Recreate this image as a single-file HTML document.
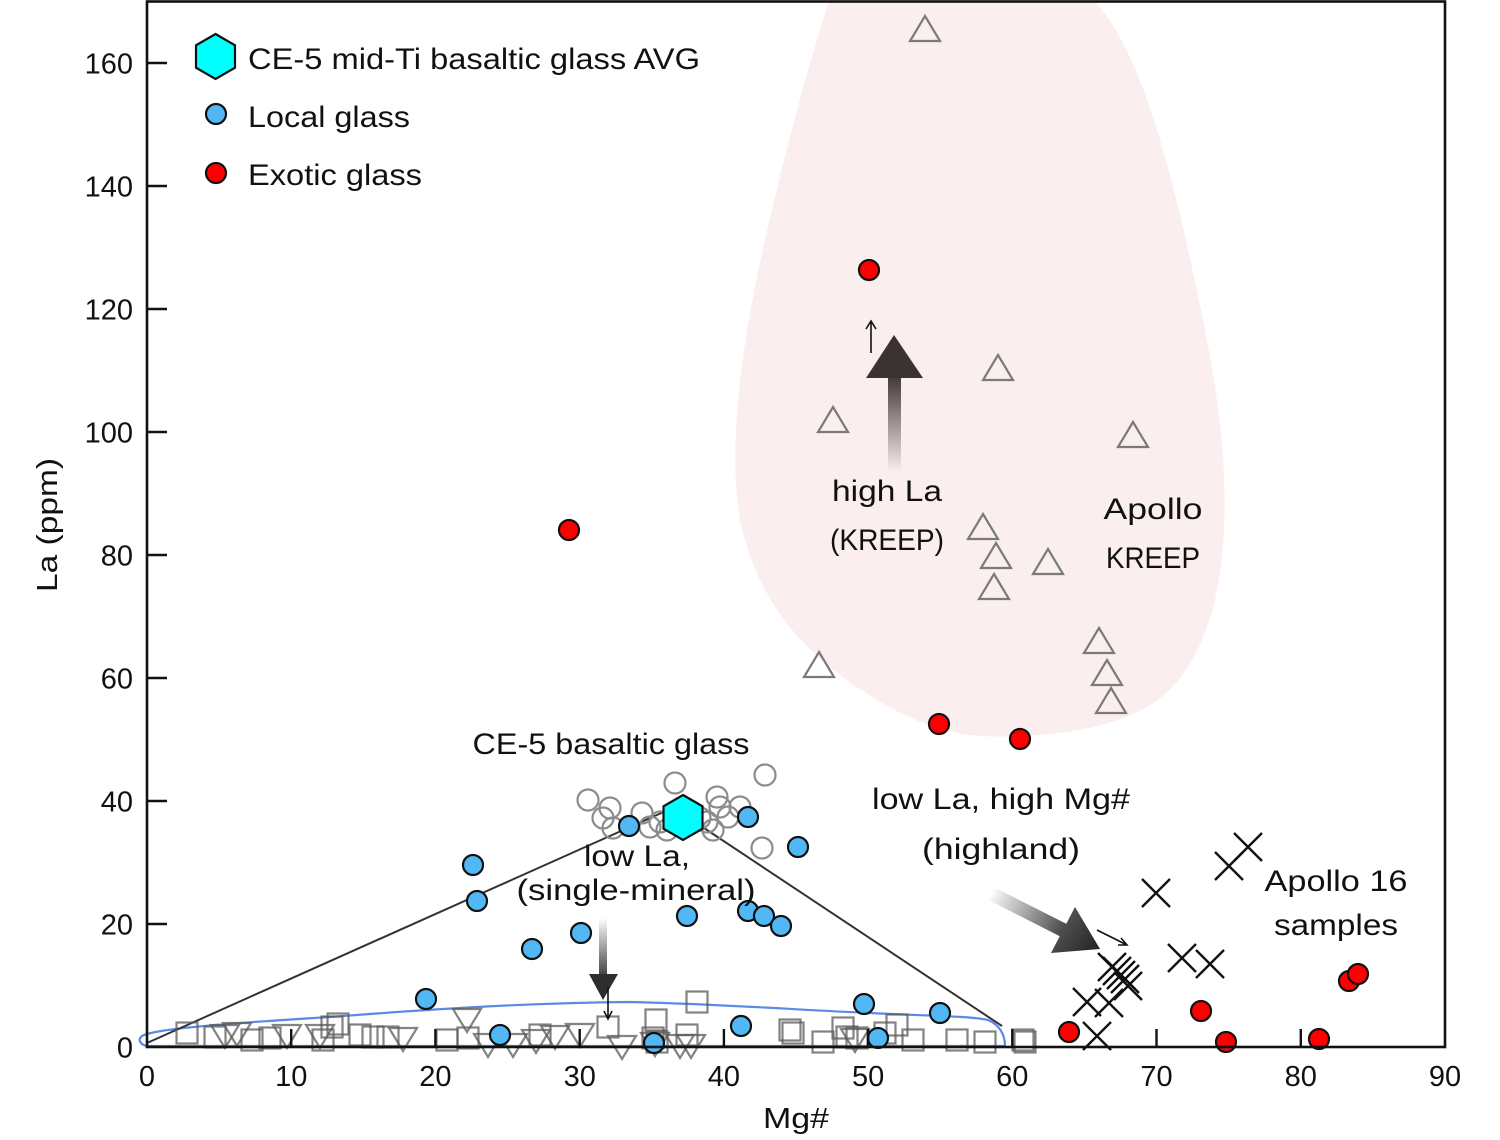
<!DOCTYPE html>
<html><head><meta charset="utf-8">
<style>
html,body{margin:0;padding:0;background:#fff;}
svg{display:block;}
text{font-family:"Liberation Sans",sans-serif;fill:#111;}
</style></head>
<body>
<svg width="1500" height="1140" viewBox="0 0 1500 1140" xmlns="http://www.w3.org/2000/svg">
<defs>
  <rect id="sq" x="-10.5" y="-10.5" width="21" height="21" fill="none" stroke="rgba(90,90,90,0.75)" stroke-width="2.2"/>
  <path id="dt" d="M-14,-10 L14,-10 L0,13 Z" fill="none" stroke="rgba(90,90,90,0.75)" stroke-width="2.2"/>
  <path id="ut" d="M0,-13 L15,12 L-15,12 Z" fill="none" stroke="#7a7a7a" stroke-width="2.2"/>
  <circle id="oc" r="10.5" fill="none" stroke="#8c8c8c" stroke-width="2.2"/>
  <circle id="bc" r="10" fill="#52b8f5" stroke="#111" stroke-width="2.2"/>
  <circle id="rc" r="10" fill="#ff0000" stroke="#111" stroke-width="2.2"/>
  <path id="xx" d="M-14,-14 L14,14 M14,-14 L-14,14" stroke="#111" stroke-width="2.4" fill="none"/>
  <linearGradient id="gDown" gradientUnits="userSpaceOnUse" x1="0" y1="918" x2="0" y2="980">
    <stop offset="0" stop-color="#ffffff"/><stop offset="1" stop-color="#333"/>
  </linearGradient>
  <linearGradient id="gUp" gradientUnits="userSpaceOnUse" x1="0" y1="372" x2="0" y2="472">
    <stop offset="0" stop-color="#3a3030"/><stop offset="1" stop-color="#fbeeee"/>
  </linearGradient>
  <linearGradient id="gDiag" gradientUnits="userSpaceOnUse" x1="990" y1="893" x2="1070" y2="933">
    <stop offset="0" stop-color="#ffffff"/><stop offset="1" stop-color="#3a3a3a"/>
  </linearGradient>
  <linearGradient id="gDiagH" gradientUnits="userSpaceOnUse" x1="1060" y1="920" x2="1100" y2="950">
    <stop offset="0" stop-color="#555"/><stop offset="1" stop-color="#222"/>
  </linearGradient>
  <clipPath id="plot"><rect x="147" y="0" width="1298" height="1047"/></clipPath>
</defs>

<!-- pink KREEP region -->
<path clip-path="url(#plot)" d="M 830,-2 L 1090,-2 C 1140,40 1175,180 1205,330 C 1225,430 1232,520 1215,600 C 1200,660 1175,695 1137,712 C 1090,735 1020,738 980,736 C 930,733 880,705 840,675 C 790,637 755,590 740,520 C 728,450 740,350 765,240 C 785,150 810,60 830,-2 Z" fill="#fbeeee"/>

<!-- blue envelope -->
<path d="M 147,1046 C 141,1045 137,1040 142,1036 C 152,1030 200,1025 330,1017 C 420,1010 520,1003 630,1002 C 720,1004 800,1010 870,1013 C 930,1016 970,1016 988,1020 C 1000,1025 1005,1035 1005,1046 Z" fill="none" stroke="#5b8ae4" stroke-width="2.2"/>

<!-- mixing lines -->
<path d="M 147,1043 L 668,810 M 701,826 L 1002,1026" stroke="#333" stroke-width="2" fill="none"/>

<!-- squares -->
<g>
<use href="#sq" x="187" y="1033"/><use href="#sq" x="215" y="1037"/><use href="#sq" x="252" y="1040"/>
<use href="#sq" x="270" y="1038"/><use href="#sq" x="323" y="1040"/><use href="#sq" x="332" y="1027"/>
<use href="#sq" x="338" y="1024"/><use href="#sq" x="360" y="1035"/><use href="#sq" x="373" y="1037"/>
<use href="#sq" x="388" y="1037"/><use href="#sq" x="447" y="1040"/><use href="#sq" x="468" y="1038"/>
<use href="#sq" x="540" y="1035"/><use href="#sq" x="608" y="1027"/><use href="#sq" x="656" y="1020"/>
<use href="#sq" x="653" y="1038"/><use href="#sq" x="657" y="1042"/><use href="#sq" x="687" y="1035"/>
<use href="#sq" x="697" y="1002"/><use href="#sq" x="790" y="1030"/><use href="#sq" x="793" y="1033"/>
<use href="#sq" x="823" y="1042"/><use href="#sq" x="843" y="1028"/><use href="#sq" x="847" y="1037"/>
<use href="#sq" x="857" y="1038"/><use href="#sq" x="885" y="1033"/><use href="#sq" x="897" y="1025"/>
<use href="#sq" x="913" y="1040"/><use href="#sq" x="957" y="1040"/><use href="#sq" x="985" y="1042"/>
<use href="#sq" x="1023" y="1040"/><use href="#sq" x="1025" y="1042"/>
</g>
<!-- down triangles -->
<g>
<use href="#dt" x="225" y="1035"/><use href="#dt" x="237" y="1033"/><use href="#dt" x="287" y="1035"/>
<use href="#dt" x="320" y="1035"/><use href="#dt" x="403" y="1038"/><use href="#dt" x="467" y="1019"/>
<use href="#dt" x="488" y="1044"/><use href="#dt" x="513" y="1044"/><use href="#dt" x="536" y="1040"/>
<use href="#dt" x="555" y="1036"/><use href="#dt" x="580" y="1034"/><use href="#dt" x="622" y="1046"/>
<use href="#dt" x="655" y="1043"/><use href="#dt" x="680" y="1045"/><use href="#dt" x="691" y="1045"/>
<use href="#dt" x="855" y="1039"/>
</g>
<!-- up triangles (Apollo KREEP) -->
<g>
<use href="#ut" x="925" y="29"/><use href="#ut" x="998" y="368"/><use href="#ut" x="833" y="420"/>
<use href="#ut" x="1133" y="435"/><use href="#ut" x="983" y="527"/><use href="#ut" x="996" y="556"/>
<use href="#ut" x="1048" y="562"/><use href="#ut" x="994" y="587"/><use href="#ut" x="819" y="665"/>
<use href="#ut" x="1099" y="641"/><use href="#ut" x="1107" y="673"/><use href="#ut" x="1111" y="701"/>
</g>
<!-- open circles CE-5 basaltic glass -->
<g>
<use href="#oc" x="588" y="800"/><use href="#oc" x="610" y="808"/><use href="#oc" x="603" y="818"/>
<use href="#oc" x="613" y="828"/><use href="#oc" x="642" y="813"/><use href="#oc" x="650" y="827"/>
<use href="#oc" x="660" y="822"/><use href="#oc" x="667" y="830"/><use href="#oc" x="675" y="783"/>
<use href="#oc" x="765" y="775"/><use href="#oc" x="717" y="797"/><use href="#oc" x="720" y="807"/>
<use href="#oc" x="740" y="807"/><use href="#oc" x="728" y="817"/><use href="#oc" x="707" y="822"/>
<use href="#oc" x="713" y="830"/><use href="#oc" x="700" y="818"/><use href="#oc" x="762" y="848"/>
<use href="#oc" x="690" y="811"/>
</g>

<!-- arrows -->
<rect x="599" y="918" width="8" height="58" fill="url(#gDown)"/>
<path d="M589,974 L618,974 L603,1000 Z" fill="#2e2e2e"/>
<path d="M608,987 L608,1019 M604,1011 L608,1019 L612,1011" stroke="#111" stroke-width="1.6" fill="none"/>

<rect x="888" y="376" width="13" height="96" fill="url(#gUp)"/>
<path d="M894,335 L923,378 L866,378 Z" fill="#3b3232"/>
<path d="M871,353 L871,321 M866,329 L871,321 L876,329" stroke="#111" stroke-width="1.6" fill="none"/>

<path d="M986.8,899.2 L993.2,886.8 L1068.2,924.8 L1061.8,937.2 Z" fill="url(#gDiag)"/>
<path d="M1075,907 L1100,949 L1051,953 Z" fill="url(#gDiagH)"/>
<path d="M1097,930 L1127,945 M1118,945 L1127,945 L1121,938" stroke="#111" stroke-width="1.6" fill="none"/>

<!-- crosses Apollo 16 -->
<g>
<use href="#xx" x="1248" y="847"/><use href="#xx" x="1229" y="866"/><use href="#xx" x="1156" y="893"/>
<use href="#xx" x="1182" y="958"/><use href="#xx" x="1210" y="964"/><use href="#xx" x="1112" y="967"/>
<use href="#xx" x="1117" y="971"/><use href="#xx" x="1121" y="975"/><use href="#xx" x="1125" y="979"/>
<use href="#xx" x="1128" y="986"/><use href="#xx" x="1087" y="1002"/><use href="#xx" x="1109" y="1003"/>
<use href="#xx" x="1097" y="1036"/>
</g>

<!-- local glass -->
<g>
<use href="#bc" x="629" y="826"/><use href="#bc" x="748" y="817"/><use href="#bc" x="798" y="847"/>
<use href="#bc" x="473" y="865"/><use href="#bc" x="477" y="901"/><use href="#bc" x="532" y="949"/>
<use href="#bc" x="581" y="933"/><use href="#bc" x="687" y="916"/><use href="#bc" x="748" y="911"/>
<use href="#bc" x="764" y="916"/><use href="#bc" x="781" y="926"/><use href="#bc" x="426" y="999"/>
<use href="#bc" x="500" y="1035"/><use href="#bc" x="654" y="1043"/><use href="#bc" x="741" y="1026"/>
<use href="#bc" x="864" y="1004"/><use href="#bc" x="878" y="1038"/><use href="#bc" x="940" y="1013"/>
</g>
<!-- exotic glass -->
<g>
<use href="#rc" x="869" y="270"/><use href="#rc" x="569" y="530"/><use href="#rc" x="939" y="724"/>
<use href="#rc" x="1020" y="739"/><use href="#rc" x="1069" y="1032"/><use href="#rc" x="1201" y="1011"/>
<use href="#rc" x="1226" y="1042"/><use href="#rc" x="1319" y="1039"/><use href="#rc" x="1349" y="981"/>
<use href="#rc" x="1358" y="974"/>
</g>

<!-- hexagon AVG -->
<path d="M683,795 L702.5,806.25 L702.5,828.75 L683,840 L663.5,828.75 L663.5,806.25 Z" fill="#00ffff" stroke="#111" stroke-width="2.2"/>

<!-- frame and ticks -->
<rect x="147" y="1.5" width="1298" height="1045.5" fill="none" stroke="#111" stroke-width="2.6"/>
<path d="M291.2,1047 V1029 M435.4,1047 V1029 M579.7,1047 V1029 M723.9,1047 V1029 M868.1,1047 V1029 M1012.3,1047 V1029 M1156.5,1047 V1029 M1300.8,1047 V1029
M147,924 H167 M147,801 H167 M147,678 H167 M147,555 H167 M147,432 H167 M147,309 H167 M147,186 H167 M147,63 H167" stroke="#111" stroke-width="2.4" fill="none"/>

<!-- tick labels -->
<g font-size="29" text-anchor="end">
<text x="133" y="1057.5">0</text>
<text x="133" y="934.5">20</text>
<text x="133" y="811.5">40</text>
<text x="133" y="688.5">60</text>
<text x="133" y="565.5">80</text>
<text x="133" y="442.5">100</text>
<text x="133" y="319.5">120</text>
<text x="133" y="196.5">140</text>
<text x="133" y="73.5">160</text>
</g>
<g font-size="29" text-anchor="middle">
<text x="147" y="1086">0</text>
<text x="291.2" y="1086">10</text>
<text x="435.4" y="1086">20</text>
<text x="579.7" y="1086">30</text>
<text x="723.9" y="1086">40</text>
<text x="868.1" y="1086">50</text>
<text x="1012.3" y="1086">60</text>
<text x="1156.5" y="1086">70</text>
<text x="1300.8" y="1086">80</text>
<text x="1445" y="1086">90</text>
</g>
<text x="796" y="1128" font-size="29" text-anchor="middle" textLength="66" lengthAdjust="spacingAndGlyphs">Mg#</text>
<text transform="translate(57,525) rotate(-90)" font-size="29" text-anchor="middle" textLength="134" lengthAdjust="spacingAndGlyphs">La (ppm)</text>

<!-- legend -->
<path d="M215.5,34 L235,45.25 L235,67.75 L215.5,79 L196,67.75 L196,45.25 Z" fill="#00ffff" stroke="#111" stroke-width="2.2"/>
<circle cx="216" cy="114" r="10" fill="#52b8f5" stroke="#111" stroke-width="2.2"/>
<circle cx="216" cy="173" r="10" fill="#ff0000" stroke="#111" stroke-width="2.2"/>
<g font-size="30">
<text x="248" y="69" textLength="452" lengthAdjust="spacingAndGlyphs">CE-5 mid-Ti basaltic glass AVG</text>
<text x="248" y="127" textLength="162" lengthAdjust="spacingAndGlyphs">Local glass</text>
<text x="248" y="185" textLength="174" lengthAdjust="spacingAndGlyphs">Exotic glass</text>
</g>

<!-- annotations -->
<g font-size="30" text-anchor="middle">
<text x="611" y="754" textLength="277" lengthAdjust="spacingAndGlyphs">CE-5 basaltic glass</text>
<text x="637" y="866" textLength="106" lengthAdjust="spacingAndGlyphs">low La,</text>
<text x="636" y="900" textLength="239" lengthAdjust="spacingAndGlyphs">(single-mineral)</text>
<text x="887" y="501" textLength="110" lengthAdjust="spacingAndGlyphs">high La</text>
<text x="887" y="550" textLength="114" lengthAdjust="spacingAndGlyphs">(KREEP)</text>
<text x="1153" y="519" textLength="99" lengthAdjust="spacingAndGlyphs">Apollo</text>
<text x="1153" y="568" textLength="94" lengthAdjust="spacingAndGlyphs">KREEP</text>
<text x="1001" y="809" textLength="258" lengthAdjust="spacingAndGlyphs">low La, high Mg#</text>
<text x="1001" y="859" textLength="158" lengthAdjust="spacingAndGlyphs">(highland)</text>
<text x="1336" y="891" textLength="143" lengthAdjust="spacingAndGlyphs">Apollo 16</text>
<text x="1336" y="935" textLength="124" lengthAdjust="spacingAndGlyphs">samples</text>
</g>
</svg>
</body></html>
